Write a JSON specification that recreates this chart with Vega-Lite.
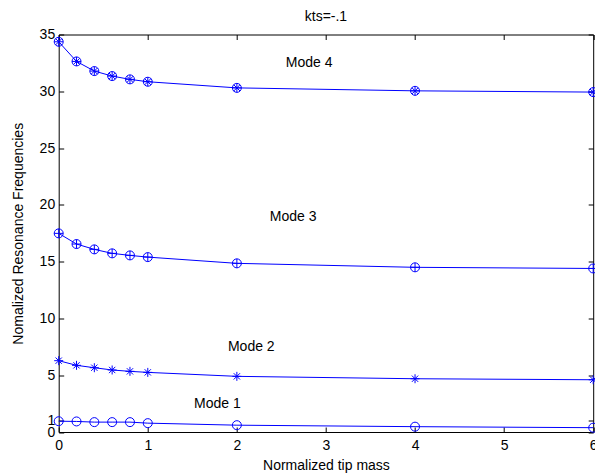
{
  "$schema": "https://vega.github.io/schema/vega-lite/v6.json",
  "width": 534.5,
  "height": 397.5,
  "autosize": "none",
  "padding": {"left": 58.7, "top": 34.5, "right": 1.8, "bottom": 43},
  "background": "white",
  "config": {
    "view": {"stroke": "black", "strokeWidth": 1},
    "font": "Liberation Sans",
    "axis": {"grid": false, "domain": false, "tickColor": "black", "tickSize": -5, "labelColor": "black", "labelFontSize": 14, "labelFont": "Liberation Sans", "titleFont": "Liberation Sans", "titleFontSize": 14, "titleFontWeight": "normal", "titleColor": "black", "labelOverlap": false, "labelFlush": false}
  },
  "title": {"text": "kts=-.1", "fontSize": 14, "fontWeight": "normal", "color": "black", "font": "Liberation Sans", "offset": 4},
  "datasets": {
    "modes": [
      {"x": 0, "y": 0.95, "mode": "Mode 1"},
      {"x": 0.2, "y": 0.93, "mode": "Mode 1"},
      {"x": 0.4, "y": 0.87, "mode": "Mode 1"},
      {"x": 0.6, "y": 0.87, "mode": "Mode 1"},
      {"x": 0.8, "y": 0.87, "mode": "Mode 1"},
      {"x": 1, "y": 0.78, "mode": "Mode 1"},
      {"x": 2, "y": 0.6, "mode": "Mode 1"},
      {"x": 4, "y": 0.47, "mode": "Mode 1"},
      {"x": 6, "y": 0.38, "mode": "Mode 1"},
      {"x": 0, "y": 6.28, "mode": "Mode 2"},
      {"x": 0.2, "y": 5.87, "mode": "Mode 2"},
      {"x": 0.4, "y": 5.66, "mode": "Mode 2"},
      {"x": 0.6, "y": 5.46, "mode": "Mode 2"},
      {"x": 0.8, "y": 5.34, "mode": "Mode 2"},
      {"x": 1, "y": 5.25, "mode": "Mode 2"},
      {"x": 2, "y": 4.9, "mode": "Mode 2"},
      {"x": 4, "y": 4.69, "mode": "Mode 2"},
      {"x": 6, "y": 4.6, "mode": "Mode 2"},
      {"x": 0, "y": 17.49, "mode": "Mode 3"},
      {"x": 0.2, "y": 16.55, "mode": "Mode 3"},
      {"x": 0.4, "y": 16.08, "mode": "Mode 3"},
      {"x": 0.6, "y": 15.73, "mode": "Mode 3"},
      {"x": 0.8, "y": 15.55, "mode": "Mode 3"},
      {"x": 1, "y": 15.4, "mode": "Mode 3"},
      {"x": 2, "y": 14.85, "mode": "Mode 3"},
      {"x": 4, "y": 14.5, "mode": "Mode 3"},
      {"x": 6, "y": 14.4, "mode": "Mode 3"},
      {"x": 0, "y": 34.36, "mode": "Mode 4"},
      {"x": 0.2, "y": 32.63, "mode": "Mode 4"},
      {"x": 0.4, "y": 31.78, "mode": "Mode 4"},
      {"x": 0.6, "y": 31.34, "mode": "Mode 4"},
      {"x": 0.8, "y": 31.05, "mode": "Mode 4"},
      {"x": 1, "y": 30.84, "mode": "Mode 4"},
      {"x": 2, "y": 30.3, "mode": "Mode 4"},
      {"x": 4, "y": 30.04, "mode": "Mode 4"},
      {"x": 6, "y": 29.93, "mode": "Mode 4"}
    ],
    "labels": [
      {"x": 1.52, "y": 2.45, "label": "Mode 1"},
      {"x": 1.9, "y": 7.5, "label": "Mode 2"},
      {"x": 2.37, "y": 18.95, "label": "Mode 3"},
      {"x": 2.55, "y": 32.5, "label": "Mode 4"}
    ]
  },
  "layer": [
    {
      "data": {"name": "modes"},
      "mark": {"type": "line", "color": "#0000ff", "strokeWidth": 1},
      "encoding": {
        "x": {"field": "x", "type": "quantitative", "scale": {"domain": [0, 6], "nice": false, "zero": false}, "axis": {"orient": "bottom", "values": [0, 1, 2, 3, 4, 5, 6], "title": "Normalized tip mass", "labelPadding": 11, "titlePadding": 6}},
        "y": {"field": "y", "type": "quantitative", "scale": {"domain": [0, 35], "nice": false, "zero": false}, "axis": {"orient": "left", "values": [0, 1, 5, 10, 15, 20, 25, 30, 35], "title": "Nomalized Resonance Frequencies", "labelPadding": 9, "titlePadding": 14}},
        "detail": {"field": "mode"}
      }
    },
    {
      "data": {"name": "modes"},
      "mark": {"type": "point", "filled": false, "color": "#0000ff", "strokeWidth": 1, "opacity": 1, "size": 81},
      "encoding": {
        "x": {"field": "x", "type": "quantitative", "axis": {"orient": "top", "values": [0, 1, 2, 3, 4, 5, 6], "labels": false, "title": null}},
        "y": {"field": "y", "type": "quantitative", "axis": {"orient": "right", "values": [0, 1, 5, 10, 15, 20, 25, 30, 35], "labels": false, "title": null}},
        "shape": {"field": "mode", "type": "nominal", "legend": null, "scale": {"domain": ["Mode 1", "Mode 2", "Mode 3", "Mode 4"], "range": [
          "M1,0A1,1 0 1,1 -1,0A1,1 0 1,1 1,0Z",
          "M-1,0L1,0M0,-1L0,1M-0.7,-0.7L0.7,0.7M-0.7,0.7L0.7,-0.7",
          "M1,0A1,1 0 1,1 -1,0A1,1 0 1,1 1,0ZM-1,0L1,0M0,-1L0,1",
          "M1,0A1,1 0 1,1 -1,0A1,1 0 1,1 1,0ZM-1,0L1,0M0,-1L0,1M-0.7,-0.7L0.7,0.7M-0.7,0.7L0.7,-0.7"
        ]}}
      }
    },
    {
      "data": {"name": "labels"},
      "mark": {"type": "text", "align": "left", "baseline": "middle", "fontSize": 14, "font": "Liberation Sans", "color": "black"},
      "encoding": {
        "x": {"field": "x", "type": "quantitative", "axis": null},
        "y": {"field": "y", "type": "quantitative", "axis": null},
        "text": {"field": "label"}
      }
    }
  ],
  "resolve": {"axis": {"x": "independent", "y": "independent"}}
}
